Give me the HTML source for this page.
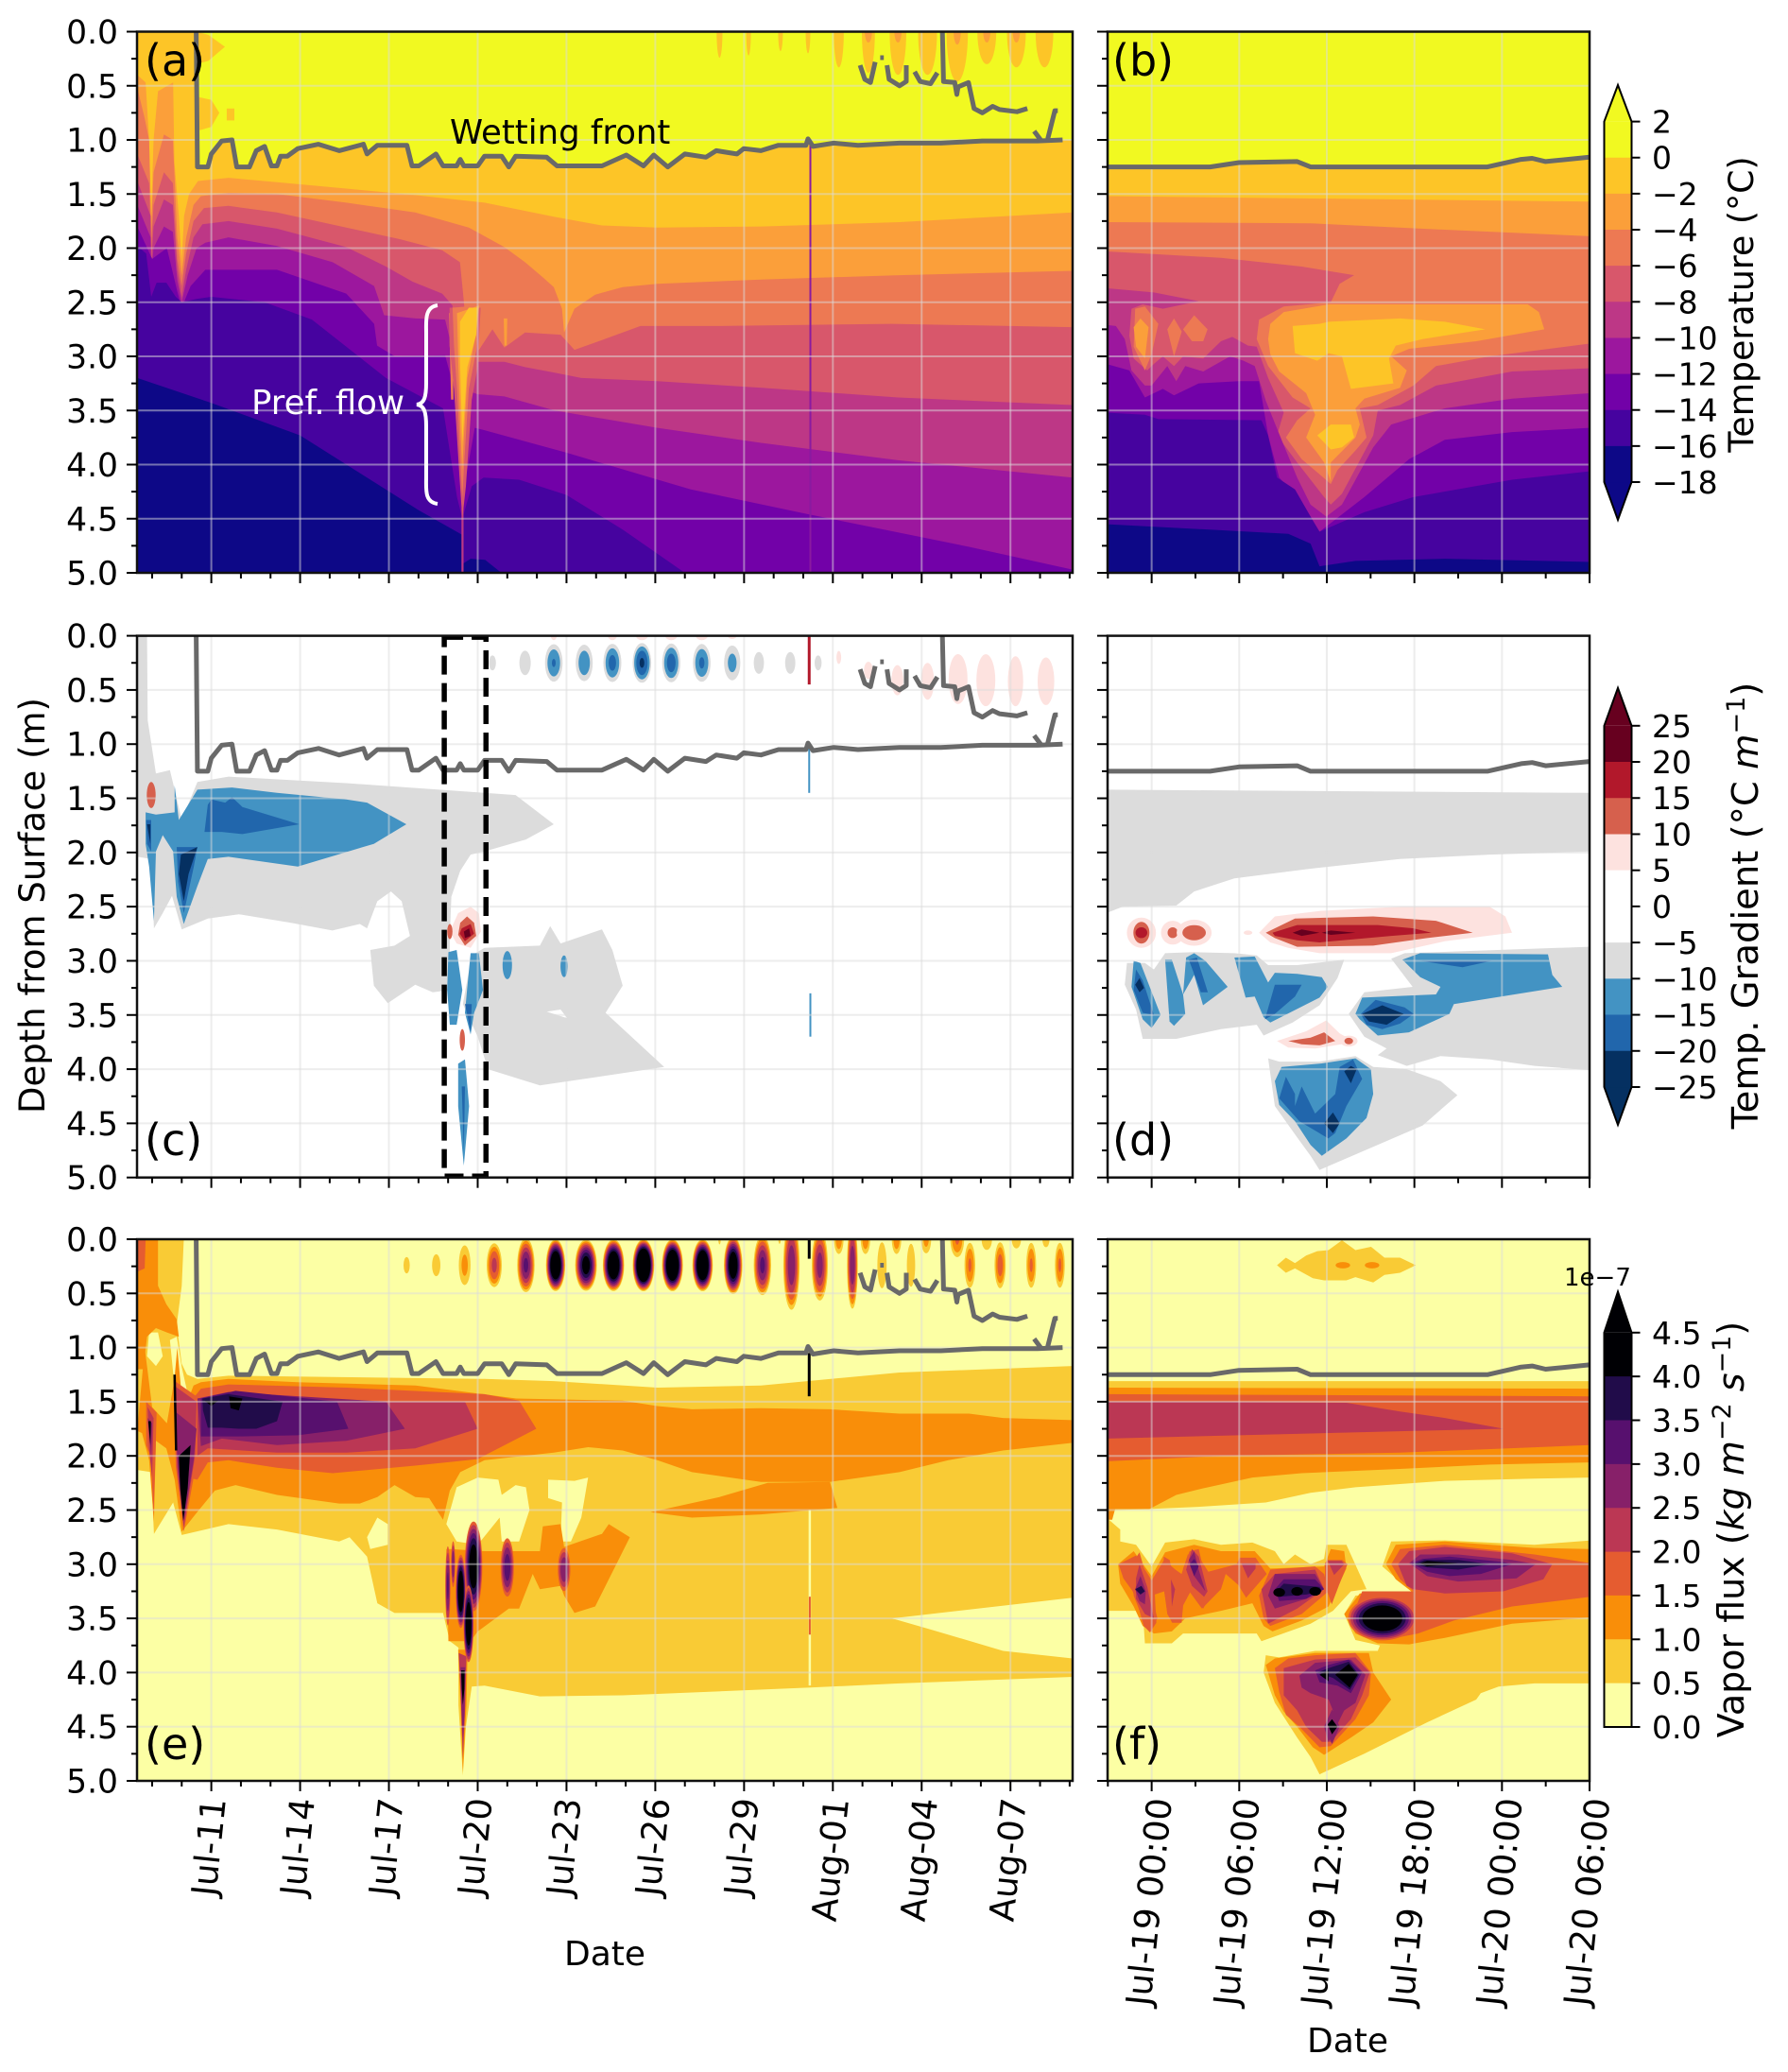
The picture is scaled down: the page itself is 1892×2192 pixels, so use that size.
<!DOCTYPE html>
<html lang="en">
<head>
<meta charset="utf-8">
<title>Soil temperature, gradient and vapor flux</title>
<style>
html,body{margin:0;padding:0;background:#fff}
svg{display:block;font-family:"DejaVu Sans","Liberation Sans",sans-serif}
</style>
</head>
<body>
<svg id="fig" xmlns="http://www.w3.org/2000/svg" width="1892" height="2192" viewBox="0 0 1892 2192">
<defs id="clips"></defs>
<rect x="0" y="0" width="1892" height="2192" fill="#fff"/>
<g id="panels"></g>
<g id="axes"></g>
<g id="bars"></g>
<g>
<text x="153" y="80" font-size="46">(a)</text>
<text x="1177" y="80" font-size="46">(b)</text>
<text x="153" y="1222" font-size="46">(c)</text>
<text x="1177" y="1222" font-size="46">(d)</text>
<text x="153" y="1861" font-size="46">(e)</text>
<text x="1177" y="1861" font-size="46">(f)</text>
<text x="476" y="152" font-size="35.5">Wetting front</text>
<text x="266" y="438" font-size="35.5" fill="#fff">Pref. flow</text>
<path d="M463 323 C449 325 451 340 451 352 L451 405 C451 420 449 427 441 428 C449 429 451 436 451 451 L451 504 C451 518 449 531 463 533" fill="none" stroke="#fff" stroke-width="4"/>
<text transform="translate(47,958) rotate(-90)" text-anchor="middle" font-size="37">Depth from Surface (m)</text>
<text x="640" y="2079" text-anchor="middle" font-size="36">Date</text>
<text x="1426" y="2171" text-anchor="middle" font-size="36">Date</text>
<text transform="translate(1855,322) rotate(-90)" text-anchor="middle" font-size="36.3">Temperature (°C)</text>
<text transform="translate(1860,958) rotate(-90)" text-anchor="middle" font-size="38.5">Temp. Gradient (°C <tspan font-style="italic">m</tspan><tspan font-size="27" dy="-14">−1</tspan><tspan dy="14">)</tspan></text>
<text transform="translate(1845,1618) rotate(-90)" text-anchor="middle" font-size="38">Vapor flux (<tspan font-style="italic">kg m</tspan><tspan font-size="27" dy="-14">−2</tspan><tspan dy="14" font-style="italic"> s</tspan><tspan font-size="27" dy="-14">−1</tspan><tspan dy="14">)</tspan></text>
<text x="1655" y="1360" font-size="26">1e−7</text>
</g>
</svg>
<script>
/* ---------- axis data ---------- */
const dayTicks = [11,14,17,20,23,26,29,32,35,38];
const dayTickLabels = ['Jul-11','Jul-14','Jul-17','Jul-20','Jul-23','Jul-26','Jul-29','Aug-01','Aug-04','Aug-07'];
const hourTicks = [0,6,12,18,24,30];
const hourTickLabels = ['Jul-19 00:00','Jul-19 06:00','Jul-19 12:00','Jul-19 18:00','Jul-20 00:00','Jul-20 06:00'];
const depthTicks = [0,0.5,1,1.5,2,2.5,3,3.5,4,4.5,5];
const depthTickLabels = ['0.0','0.5','1.0','1.5','2.0','2.5','3.0','3.5','4.0','4.5','5.0'];
const tempTicks = [2,0,-2,-4,-6,-8,-10,-12,-14,-16,-18];
const gradTicks = [25,20,15,10,5,0,-5,-10,-15,-20,-25];
const fluxTicks = [4.5,4,3.5,3,2.5,2,1.5,1,0.5,0];

/* ---------- colour levels ---------- */
const tempColors = ['#f1f921','#fdc527','#fb9f3a','#ed7953','#d8576b','#bd3786','#9c179e','#7201a8','#46039f','#0d0887'];
const gradColors = ['#67001f','#b2182b','#d6604d','#fde2df','#ffffff','#ffffff','#dcdcdc','#4393c3','#2166ac','#053061'];
const fluxColors = ['#000004','#210c4a','#57106e','#872069','#bb3754','#e55c30','#f98e09','#f9cb35','#fcffa4'];
const GOLD=1,ORNG=2,CORAL=3,ROSE=4,MAG=5,PURP=6,VIOL=7,INDIGO=8,NAVY=9;
const F0=8,F05=7,F1=6,F15=5,F2=4,F25=3,F3=2,F35=1,F4=0;
const G_GRAY=6,G_B1=7,G_B2=8,G_B3=9,G_P=3,G_R1=2,G_R2=1,G_R3=0;

/* ---------- wetting front (day of July, depth m) ---------- */
const frontDays = [10.49,10.53,10.88,11,11.35,11.7,11.86,12.29,12.52,12.8,13.03,13.22,13.34,13.57,13.92,14.62,15.32,16.14,16.26,16.61,17.61,17.78,18.01,18.59,18.83,19.29,19.41,19.53,20,20.23,20.81,21.05,21.28,22.33,22.68,24.2,25.02,25.6,25.95,26.42,27,27.71,28.06,28.76,28.99,29.57,30.16,31.09,31.16,31.33,32.03,32.85,34.25,35.65,37.05,38.92,39.76];
const frontDepths = [0,1.25,1.25,1.13,1.01,1.0,1.25,1.25,1.1,1.06,1.24,1.24,1.15,1.15,1.08,1.04,1.1,1.04,1.13,1.05,1.05,1.24,1.24,1.13,1.24,1.24,1.18,1.24,1.24,1.15,1.15,1.25,1.15,1.16,1.24,1.24,1.14,1.24,1.14,1.25,1.13,1.16,1.1,1.13,1.08,1.1,1.05,1.05,.99,1.06,1.03,1.05,1.03,1.03,1.01,1.01,1.0];
const perchedDays = [32.92,33.08,33.27,33.43,null,33.6,33.72,null,33.83,33.9,34.25,34.48,34.48,null,34.76,34.95,35.3,35.53,null,35.7,35.74,36.12,36.19,36.23,36.58,36.77,37.05,37.4,37.63,38.22,38.57,null,38.8,39.02,null,39.26,39.5,39.6];
const perchedDepths = [.31,.44,.47,.28,null,.24,.24,null,.31,.44,.5,.46,.31,null,.37,.46,.48,.38,null,0,.46,.47,.58,.51,.47,.71,.75,.69,.72,.74,.71,null,.92,1.0,null,.99,.73,.73];
const zoomFrontHours = [-3,4,5.98,9.97,10.89,23,25.31,26.07,26.99,30];
const zoomFrontDepths = [1.25,1.25,1.21,1.2,1.25,1.25,1.18,1.17,1.2,1.16];

/* ---------- panel (a): temperature isotherms, [day, depth, ...] ---------- */
const aIsoM2 = [8.5,.4,8.78,.47,8.9,1.0,8.97,1.7,9.05,1.0,9.2,.55,9.71,.47,9.75,1.2,9.9,1.7,10,2.13,10.08,1.7,10.25,1.5,10.55,1.38,11.58,1.35,13.22,1.39,15.56,1.45,17.89,1.51,20.23,1.58,22.57,1.71,24.2,1.79,26.07,1.81,29.57,1.8,34.25,1.76,40.1,1.67];
const aIsoM4 = [8.5,.52,8.75,.8,8.9,1.0,8.97,1.85,9.05,1.3,9.4,.95,9.7,1.0,9.85,1.9,10,2.25,10.15,1.9,10.4,1.6,10.65,1.52,11.58,1.49,13.22,1.5,15.56,1.58,17.89,1.67,19.7,1.81,20.9,1.99,21.6,2.13,22.2,2.27,22.57,2.36,22.85,2.56,22.92,2.78,23.27,2.56,23.97,2.43,24.9,2.36,26.07,2.33,29.57,2.29,34.25,2.25,40.1,2.21];
const aIsoM6 = [8.5,1.13,8.9,1.4,8.97,2.0,9.05,1.6,9.4,1.3,9.7,1.4,9.85,2.1,10,2.35,10.15,2.05,10.4,1.75,10.75,1.63,11.58,1.61,13.22,1.67,15.56,1.81,17.4,1.92,18.8,2.02,19.4,2.13,19.5,2.4,19.6,2.7,19.9,3.0,20.5,2.75,20.9,2.92,21.6,2.78,22.8,2.8,23.27,2.94,24.2,2.85,25.5,2.72,28,2.72,34,2.7,40.1,2.73];
const aIsoM8 = [8.5,1.38,8.95,1.7,8.97,2.15,9.05,1.8,9.4,1.55,9.7,1.6,9.85,2.2,10,2.45,10.15,2.2,10.4,1.9,10.7,1.78,11.58,1.75,13.22,1.82,15.56,1.99,16.9,2.17,17.8,2.31,18.8,2.42,19.15,2.53,19.1,2.7,19.7,3.0,20,3.05,20.9,3.05,21.6,3.1,22.6,3.15,23.5,3.2,26.07,3.23,29.6,3.29,34.2,3.38,40.1,3.45];
const aIsoM10 = [8.5,1.6,8.95,1.9,8.97,2.25,9.05,2.0,9.4,1.8,9.7,1.85,9.85,2.3,10,2.5,10.2,2.25,10.5,2.0,10.8,1.95,11.58,1.9,13.22,1.98,15.1,2.13,16.5,2.35,16.84,2.62,17.9,2.65,18.9,2.66,19.2,3.0,19.5,3.3,20,3.35,20.9,3.37,22.6,3.5,26.07,3.66,29.6,3.8,34.2,3.96,40.1,4.12];
const aIsoM12 = [8.5,1.8,9,2.1,9.5,2.0,9.85,2.4,10,2.55,10.3,2.35,10.8,2.2,13.22,2.2,15.56,2.42,16.5,2.7,16.6,2.9,17.2,3.0,18.9,2.99,19.3,3.4,19.55,4.2,19.9,3.66,20.2,3.68,23,3.89,27.2,4.23,31.2,4.46,36.6,4.76,40.1,4.97];
const aIsoM14 = [8.5,1.98,8.8,2.05,8.97,2.45,9.15,2.32,9.48,2.32,9.8,2.45,10,2.5,10.5,2.47,11,2.45,12.8,2.5,14.4,2.66,15.56,2.91,16.9,3.2,18.83,3.48,19.3,4.3,19.48,4.5,19.8,4.2,20.2,4.12,21.4,4.14,23,4.28,24.9,4.6,27,5.0];
const aIsoM16 = [8.5,3.2,11,3.43,14,3.73,18,4.42,19.48,4.65,19.48,4.92,19.76,4.87,20.25,4.88,20.8,5];
const aTongueRose = [19.05,2.55,20.1,2.55,20,3.1,19.8,3.4,19.6,4.2,19.48,4.5,19.38,4.1,19.2,3.3,19.05,2.9];
const aTongueCoral = [19.15,2.55,20.05,2.53,19.95,2.95,19.7,3.3,19.55,3.95,19.48,4.3,19.4,3.9,19.3,3.3,19.2,2.9];
const aTongueOrange = [19.3,2.6,20.05,2.53,19.9,2.85,19.65,3.2,19.53,3.75,19.48,4.05,19.42,3.7,19.35,3.1];
const aTongueGold = [19.4,2.68,19.7,2.55,20,2.55,19.95,2.8,19.65,3.1,19.55,3.5,19.48,3.8,19.43,3.3,19.4,3.0];
const aFingerNarrow = [19.03,2.6,19.14,2.6,19.18,3.4,19.1,3.4];
const aFingerSmall = [20.88,2.65,21,2.65,20.98,2.9,20.9,2.9];
const aTail = [19.45,4.4,19.52,4.4,19.52,5,19.45,5];
const aTopBump = [10.5,0,10.9,.03,11.46,.14,10.9,.27,10.5,.3];
const aMidBump = [10.5,.6,11,.63,11.27,.75,11,.88,10.5,.92];
const aMidDot = [11.52,.71,11.78,.71,11.78,.82,11.52,.82];
const aLobeDays = [28.17,29.15,30.23,31.16,32.2,33.2,34.2,35.2,36.2,37.2,38.2,39.15];
const aLobeDepths = [.24,.22,.18,.2,.33,.38,.4,.4,.46,.3,.33,.33];
const aLobeHalfDays = [.1,.08,.08,.08,.17,.22,.28,.32,.36,.32,.32,.3];
const aInnerLobeDays = [33.2,34.2,36.2,37.2,38.2];
const aInnerLobeDepths = [.1,.1,.12,.1,.1];

/* ---------- panel (b): zoomed temperature, [hour, depth, ...] ---------- */
const bIso0 = [-3.1,1.25,4,1.25,5.98,1.21,9.97,1.2,10.89,1.25,23,1.25,25.31,1.18,26.07,1.17,26.99,1.2,30.1,1.16];
const bIsoM2 = [-3.1,1.52,30.1,1.57];
const bIsoM4 = [-3.1,1.76,10.89,1.77,20.09,1.83,30.1,1.89];
const bIsoM6 = [-3.1,2.03,4.75,2.09,10.28,2.17,13.87,2.25,12.88,2.33,12.27,2.5,9.05,2.54,7.36,2.66,7.2,2.84,7.98,3.09,9.66,3.38,10.89,3.48,9.97,3.59,9.2,3.75,10.28,3.95,11.5,4.09,12.27,4.18,12.73,4.05,13.96,3.87,14.72,3.75,14.26,3.48,15.49,3.45,17.94,3.27,19.48,3.09,23.16,3,30.1,2.88];
const bIsoM8 = [-3.1,2.37,.15,2.41,3.22,2.49,.77,2.56,-.61,2.52,-1.38,2.56,-1.53,2.81,-1.23,3.02,-.31,3.13,.15,3.07,.77,3,1.53,3.09,2.15,3,3.53,3.02,4.75,2.86,5.52,2.82,6.6,2.9,7.2,2.91,7.98,3.2,9.05,3.52,8.59,3.73,9.97,3.98,11.81,4.3,12.27,4.37,13.04,4.27,15.18,3.73,15.49,3.5,17.02,3.45,19.48,3.27,24.69,3.14,30.1,3.11];
const bIsoM10 = [-3.1,2.71,-2.45,2.72,-1.84,2.84,-1.38,3.13,-.46,3.27,0,3.27,1.07,3.09,1.69,3.23,2.3,3.09,3.53,3.14,5.37,3,6.29,3.04,7.06,3.09,7.82,3.41,8.9,3.77,9.97,4.12,10.89,4.37,11.96,4.48,13.04,4.37,15.18,3.84,16.41,3.63,20.09,3.48,24.69,3.39,30.1,3.34];
const bIsoM12 = [-3.1,3.07,-1.53,3.13,-.46,3.38,.77,3.3,1.53,3.36,3.22,3.25,5.98,3.23,7.36,3.23,7.98,3.73,8.74,4.12,9.97,4.3,11.5,4.62,14.57,4.3,17.64,3.95,20.09,3.77,24.69,3.7,30.1,3.66];
const bIsoM14 = [-3.1,3.52,-.46,3.54,.46,3.58,7.52,3.59,7.98,3.73,8.59,4.12,9.82,4.23,10.89,4.48,11.5,4.62,14.57,4.44,17.94,4.3,24.69,4.14,30.1,4.06];
const bIsoM16 = [-3.1,4.55,9.36,4.64,10.89,4.73,11.5,4.94,13.96,4.89,20.09,4.87,30.1,4.9];
const bWarmOrange = [8.13,2.7,9.05,2.59,12.12,2.52,17.02,2.52,25.77,2.52,26.53,2.59,26.9,2.75,22.24,2.86,17.64,2.93,16.41,3,17.48,3.13,17.02,3.29,14.57,3.39,13.96,3.48,14.26,3.63,13.96,3.75,12.27,3.98,12.27,4.16,11.81,3.98,10.58,3.75,11.2,3.54,10.58,3.34,8.74,3.14,8.13,2.98,7.98,2.84];
const bWarmGoldUpper = [9.66,2.72,11.5,2.7,12.12,2.68,17.02,2.65,20.09,2.68,22.85,2.75,18.56,2.84,16.72,2.9,16.26,3.02,16.56,3.25,13.65,3.3,13.04,3,12.12,2.97,11.35,3.04,9.82,2.97];
const bWarmGoldLower = [11.35,3.73,12.27,3.63,13.65,3.63,13.87,3.75,13.04,3.84,12.27,3.86];
const bLeftBlobA = [-1.13,2.56,-.46,2.54,.46,2.7,0,2.98,-.46,3.13,-1.23,2.91];
const bLeftBlobB = [1.07,2.75,1.53,2.65,2.06,2.77,1.53,3];
const bLeftBlobC = [2.15,2.75,2.91,2.62,3.83,2.75,3.53,2.86,2.76,2.86];
const bLeftBlobCore = [-1.23,2.73,-.77,2.65,-.21,2.73,-.46,3.02,-1.07,2.91];

/* ---------- panel (c): temperature gradient contours ---------- */
const cGrayUpper = [8.5,0,8.83,0,8.85,.78,9.13,1.27,9.6,1.24,9.76,1.42,10,1.7,10.53,1.35,11.58,1.3,15.56,1.36,20.23,1.45,21.28,1.47,22.57,1.74,21.63,1.88,20.23,1.99,19.76,2.02,19.41,2.17,19.11,2.41,19.06,2.77,19.06,3.27,18.48,3.29,17.89,3.22,16.96,3.39,16.49,3.23,16.37,2.9,17.19,2.86,17.71,2.77,17.43,2.45,17.07,2.36,16.61,2.45,16.26,2.7,16.02,2.66,15.09,2.72,13.69,2.65,11.93,2.57,10.88,2.61,10,2.71,9.67,2.4,9.36,2.56,9.06,2.7,8.97,2.06,8.5,2.04];
const cGrayLower = [20.23,2.88,22.1,2.86,22.45,2.68,22.8,2.84,24.2,2.71,24.55,2.9,24.9,3.23,24.32,3.48,26.3,3.98,22.1,4.15,20.35,4,20,3.7,19.5,3.4,19.8,2.95];
const cGrayHole = [22.33,3.47,22.8,3.45,23.03,3.53];
const cBlueMain = [8.78,1.63,9.13,1.65,9.76,1.63,9.76,1.38,9.9,1.7,10.53,1.42,11.7,1.4,13.22,1.45,15.56,1.51,16.26,1.54,17.59,1.74,16.49,1.92,13.92,2.13,11.58,2.04,10.88,2.06,10.53,2.31,10.07,2.66,9.83,2.41,9.71,1.99,9.36,1.84,9.13,1.99,9.06,2.63,8.9,2.13,8.78,1.92];
const cMidCore = [10.77,1.81,10.88,1.56,11,1.51,11.47,1.54,11.7,1.49,12.05,1.58,13.97,1.74,12.05,1.83,11.35,1.81];
const cMidLeft = [8.8,1.7,8.97,1.7,8.97,1.99,8.83,1.92];
const cMidSpike = [9.83,1.95,10.53,1.95,10.41,2.13,10.07,2.56,9.88,2.27];
const cDarkLeft = [8.83,1.74,8.94,1.74,8.94,1.92];
const cDarkSpike = [9.97,2.02,10.53,1.95,10.23,2.2,10.07,2.45,9.9,2.2];
const cRedPink = [19.34,2.56,19.76,2.5,20.04,2.56,20.11,2.73,19.76,2.88,19.29,2.84,19.06,2.73];
const cRedCoral = [19.41,2.65,19.64,2.59,19.88,2.65,19.95,2.77,19.57,2.86,19.34,2.76];
const cRedMid = [19.46,2.7,19.76,2.66,19.88,2.75,19.57,2.82,19.39,2.75];
const cRedDark = [19.53,2.73,19.71,2.7,19.76,2.77,19.57,2.79];
const cColumnLeft = [19.01,2.92,19.29,2.9,19.48,3.27,19.29,3.59,19.06,3.59,18.97,3.27];
const cColumnRight = [19.76,2.93,20.04,2.93,20.18,3.27,19.88,3.48,19.76,3.68,19.57,3.48,19.64,3.27];
const cColumnMid = [19.57,3.4,19.8,3.4,19.76,3.65];
const cSpikeLower = [19.34,3.95,19.57,3.91,19.71,4.34,19.53,4.89,19.34,4.34];
const cSpikeLowerMid = [19.46,4.16,19.57,4.16,19.53,4.77];
const cSpotDays = [8.97,19.06,19.48,21,22.92];
const cSpotDepths = [1.47,2.73,3.73,3.04,3.05];
const cSpotHalfDays = [.15,.09,.09,.16,.12];
const cSpotHalfDepths = [.12,.07,.1,.13,.1];
const cSpotColorsIdx = [G_R1,G_R1,G_R1,G_B1,G_B1];
const cDiurnalDays = [20.5,21.6,22.57,23.6,24.55,25.55,26.54,27.57,28.6,29.5,30.56,31.5];
const cDiurnalPeak = [5.6,7,15.5,14,17,21,18,16,12,6.5,6.5,5.6];
const cPinkDays = [22.57,24.55,25.55,26.54,27.57,28.6,32.2,33.2,34.18,35.2,36.23,37.17,38.17,39.2];
const cPinkDepths = [0,0,0,0,0,0,.2,.32,.41,.42,.4,.41,.42,.42];
const cPinkHalfDepths = [.04,.04,.04,.04,.04,.03,.06,.08,.14,.17,.23,.24,.23,.22];
const cPinkHalfDays = [.1,.15,.2,.2,.2,.15,.08,.15,.2,.22,.32,.32,.26,.28];

/* ---------- panel (d): zoomed gradient, [hour, depth, ...] ---------- */
const dGrayTop = [-3.1,1.42,30.1,1.45,30.1,1.99,23.16,2.02,17,2.06,10.89,2.15,5.67,2.24,2.91,2.36,1.69,2.49,-2,2.5,-3.1,2.56];
const dGrayLeft = [-3.1,3.18,-1.84,3.22,-1.69,3.02,-.46,3.02,.15,3.08,.92,2.93,2.91,2.92,5.67,2.93,7.2,2.95,7.98,3.04,9.97,3.04,13.19,2.99,12.73,3.16,11.5,3.41,9.66,3.57,7.67,3.69,7.2,3.59,4.75,3.63,1.69,3.72,-.61,3.72,-1.07,3.45,-1.84,3.22];
const dGrayRight = [16.41,2.98,17.33,2.93,30.1,2.87,30.1,4.01,26.23,3.97,23.16,3.91,19.79,3.88,17.48,3.97,15.49,3.87,16.1,3.81,14.57,3.7,13.5,3.49,14.57,3.29,17.88,3.24];
const dGrayBottom = [7.98,3.9,8.74,3.93,11.5,3.93,13.96,3.88,15.18,3.98,17.48,4,19.79,4.11,20.95,4.24,18.56,4.52,11.5,4.93,10.89,4.8,9.97,4.63,8.44,4.34];
const dBlueA = [-1.23,3,-.77,3.02,.61,3.5,0,3.62,-.61,3.54,-1.38,3.24];
const dBlueB = [.92,2.99,1.38,2.99,2.15,3.31,2.3,3.49,1.53,3.6,1.23,3.56];
const dBlueC = [2.36,2.97,2.91,2.93,3.68,3,5.21,3.24,3.52,3.41,2.91,3.13,2.15,3.31];
const dBlueD = [5.67,2.97,7.06,2.96,7.98,3.2,8.44,3.11,9.97,3.12,11.66,3.15,12.06,3.24,11.5,3.34,8.13,3.57,7.67,3.52,7.06,3.33,6.44,3.34];
const dBlueE = [17.18,2.99,18.4,2.93,27.15,2.94,27.45,3.13,28.13,3.24,20.7,3.4,20.4,3.49,17.63,3.66,15.49,3.69,14.26,3.54,13.96,3.49,14.42,3.34,19.48,3.31,19.79,3.24,18.4,3.15];
const dBlueF = [8.44,4.11,8.9,3.98,11.5,3.95,13.96,3.9,15.02,4,15.18,4.23,14.72,4.45,13.34,4.64,11.66,4.8,10.89,4.7,9.82,4.48,8.74,4.33];
const dMidA = [-1.07,3.08,-.61,3.18,.15,3.5,-.61,3.48,-1.23,3.27];
const dMidC = [2.55,2.99,3.1,2.97,3.85,3.29,3.37,3.29];
const dMidD = [7.76,3.54,8.44,3.22,10.28,3.22,9.82,3.33,8.44,3.49];
const dMidE = [18.4,3,23.3,3,21.3,3.06];
const dMidCore = [14.33,3.49,15.34,3.36,17.33,3.43,17.95,3.49,17.02,3.58,15.8,3.63,14.72,3.59];
const dMidF = [8.74,4.27,9.2,4.07,9.82,4.23,9.82,4.34,10.28,4.16,11.2,4.41,12.58,4.23,12.88,3.98,13.8,3.91,14.42,4.09,13.34,4.34,12.58,4.59,12.1,4.64,10.12,4.48];
const dDarkA = [-1.13,3.22,-.83,3.16,-.52,3.25,-.83,3.29];
const dDarkCore = [14.42,3.49,15.8,3.41,17.27,3.49,16.1,3.59,14.88,3.56];
const dDarkF1 = [13.19,4.02,13.65,3.97,14.05,4,13.65,4.13];
const dDarkF2 = [11.81,4.5,12.42,4.4,12.88,4.5,12.42,4.59];
const dPinkMain = [7.36,2.74,8.44,2.59,11.5,2.54,17,2.5,23.16,2.5,24.23,2.59,24.69,2.74,20.09,2.82,16.41,2.93,11.5,2.93,9.36,2.88,8.13,2.83];
const dCoralMain = [7.82,2.74,9.82,2.61,15.18,2.59,19.48,2.63,22,2.74,18.87,2.79,15.18,2.86,9.97,2.87,8.44,2.79];
const dRedMain = [8.28,2.74,9.97,2.67,15.49,2.67,17.94,2.7,19.17,2.74,16.41,2.77,11.5,2.83,9.97,2.81,8.44,2.77];
const dDarkRedA = [9.66,2.74,10.28,2.71,11.5,2.74,10.28,2.77];
const dDarkRedB = [11.66,2.74,12.27,2.72,13.96,2.74,12.27,2.76];
const dPinkLower = [8.59,3.74,10.58,3.65,11.96,3.55,12.88,3.67,13.96,3.75,11.2,3.81,9.36,3.8];
const dCoralLower = [9.36,3.74,10.89,3.71,11.81,3.66,12.58,3.74,11.5,3.78,10.28,3.77];
const dRedSpotHours = [-.7,1.44,2.91,6.6,13.5];
const dRedSpotDepths = [2.74,2.74,2.74,2.74,3.74];
const dPinkHalfHours = [1,.8,1.2,.3,.6];
const dPinkHalfDepths = [.14,.11,.12,.02,.05];
const dCoralHalfHours = [.55,.35,.8,0,.3];
const dCoralHalfDepths = [.1,.05,.07,0,.03];

/* ---------- panel (e): vapor flux contours ---------- */
const eGoldMain = [8.5,0,10.07,0,10,.43,9.83,.79,10,1.15,10.18,1.25,10.53,1.29,11.58,1.26,20.23,1.29,22.57,1.31,26.07,1.37,29.57,1.35,34.25,1.23,40.1,1.17,40.1,4.04,34.25,4.1,31.16,4.14,24.9,4.21,22.1,4.22,20.23,4.12,19.8,4.13,19.6,4.5,19.5,4.95,19.35,4.3,19.35,3.77,19.06,3.71,18.83,3.45,17.19,3.45,16.61,3.36,16.26,2.93,15.67,2.75,15.32,2.79,13.22,2.68,11.58,2.63,10,2.73,9.71,2.43,9.06,2.72,8.97,2.15,8.5,2.13];
const eHoleA = [18.94,2.63,19.29,2.29,20,2.2,20.7,2.22,20.81,2.36,21.28,2.27,21.63,2.29,21.75,2.5,21.4,2.79,20.81,2.79,20.74,2.57,20,2.82,19.29,2.79];
const eHoleB = [22.38,2.22,23.27,2.23,23.73,2.2,23.5,2.57,23.15,2.79,22.8,2.79,22.85,2.43,22.38,2.39];
const eHoleC = [16.26,2.75,16.61,2.57,16.96,2.63,16.96,2.82,16.37,2.86];
const eHoleD = [34,3.5,40.1,3.31,40.1,3.87,37.75,3.8,35.4,3.61];
const eHoleE = [8.9,.86,9.2,.86,9.36,1.08,9.13,1.17,8.83,1.08];
const eHoleF = [9.6,.93,9.83,.9,10,1.18,10.18,1.4,9.9,1.54,9.71,1.23];
const eOrangeMain = [8.75,1.0,9,1.55,9.5,1.7,9.75,1.3,9.85,1.0,10.05,1.6,10.4,1.35,10.65,1.32,11.58,1.29,13.9,1.32,17.9,1.35,21.3,1.47,24.9,1.49,26.07,1.54,27.24,1.57,29.57,1.56,31.9,1.57,34.25,1.61,36.6,1.61,37.75,1.65,40.1,1.67,40.1,1.88,37.75,1.95,35.9,2.04,34.25,2.15,31.9,2.24,29.57,2.24,27.24,2.15,26.07,2.04,24.9,1.95,23.73,1.92,22.57,1.97,20.23,2.04,19.41,2.15,19.06,2.32,18.83,2.59,18.36,2.39,17.89,2.38,17.19,2.27,16.61,2.38,16.02,2.44,15.32,2.44,13.22,2.36,11.82,2.27,11.12,2.32,10.46,2.54,10,2.7,9.76,2.22,9.48,1.93,9.13,1.86,9.06,2.61,8.9,2.04,8.66,1.79,8.5,1.77];
const eOrangeTopLeft = [8.5,0,9.2,0,9.2,.43,9.48,.6,9.83,.74,9.9,.9,9.5,.86,9.13,.82,8.83,.9,8.7,1.2,8.5,1.2];
const eCoralTopLeft = [8.5,0,8.78,0,8.75,.27,8.5,.3];
const eOrangeWedge = [25.84,2.52,28.17,2.38,29.8,2.25,31.9,2.24,32.15,2.48,29.57,2.54,27.24,2.57];
const eOrangeMid = [19.06,2.86,20.23,2.88,22.1,2.88,22.2,2.65,22.8,2.63,22.92,2.84,24.2,2.72,24.43,2.63,25.14,2.75,24.43,3.14,23.97,3.39,23.27,3.45,22.92,3.29,22.8,3.2,22.1,3.23,21.86,3.09,21.4,3.41,21.05,3.41,20,3.62,19.76,3.71,19.29,3.71,19.01,3.71,18.94,2.86];
const eCoralBand = [10.65,1.38,11.58,1.34,15.56,1.37,20.23,1.43,21.4,1.49,21.98,1.75,20,2.03,17.89,2.09,15.1,2.16,13.22,2.11,11.58,2.04,10.88,2.06,10.53,2.22,10.2,2.2,10.3,1.5];
const eRoseBand = [10.53,1.49,11.58,1.43,15.56,1.5,19.57,1.5,20,1.75,17.89,1.93,15.56,1.97,13.22,1.97,10.88,1.93,10.53,2];
const ePlumBand = [10.53,1.47,11.58,1.41,16.9,1.5,17.54,1.75,15.56,1.86,13.22,1.9,11.35,1.84,10.65,1.91];
const ePurpleBand = [10.65,1.47,11.82,1.4,15.25,1.5,15.63,1.75,13.92,1.81,11.93,1.82,10.65,1.82];
const eIndigoBand = [10.7,1.47,11.58,1.43,13.41,1.5,13.22,1.68,12.52,1.75,11.93,1.75,11.35,1.74,10.88,1.74,10.72,1.58];
const eBlackA = [11.6,1.45,12.05,1.47,11.93,1.58,11.65,1.56];
const eBlackB = [10.77,1.49,11.23,1.49,11,1.54];
const eSpike1Coral = [8.8,1.5,9.15,1.6,9.12,1.95,9.05,2.55,8.95,2,8.8,1.9];
const eSpike1Rose = [8.85,1.55,9.05,1.65,9,2.2,8.9,1.95];
const eSpike1Plum = [8.85,1.65,9,1.7,8.97,2];
const eSpike1Black = [8.87,1.68,8.96,1.68,8.94,1.9];
const eSpike2Coral = [9.72,1.3,10.5,1.45,10.5,2.05,10.07,2.7,9.8,2.1];
const eSpike2Rose = [9.74,1.35,10.5,1.5,10.45,2,10.07,2.66,9.84,2.1];
const eSpike2Plum = [9.74,1.4,9.82,1.6,10.5,1.75,10.4,2.05,10.07,2.6,9.88,2.15];
const eSpike2Black = [9.9,2,10.3,1.9,10.2,2.3,10.05,2.6,9.95,2.3];
const eSpike2Stripe = [9.72,1.25,9.8,1.25,9.85,1.95,9.77,1.95];
const eLowerOrange = [19.34,3.79,19.66,3.79,19.62,4.3,19.5,4.92,19.42,4.3];
const eLowerRose = [19.36,3.82,19.62,3.85,19.58,4.3,19.5,4.8,19.44,4.3];
const eLowerPlum = [19.42,3.95,19.58,3.95,19.55,4.4,19.5,4.6,19.46,4.4];
const eLowerBlack = [19.44,3.98,19.56,3.98,19.55,4.15,19.5,4.3,19.46,4.15];
const eColumnDays = [19.86,19.43,19.69,18.99,19.17,21,22.92];
const eColumnDepths = [3.02,3.25,3.55,3.2,3,3.03,3.05];
const eColumnHalfDays = [.36,.2,.2,.12,.1,.3,.3];
const eColumnHalfDepths = [.5,.4,.42,.5,.3,.36,.28];
const eColumnPeaks = [4.8,5.2,5.2,3.2,3,3.4,3];
const eDiurnalDays = [17.6,18.6,19.56,20.56,21.63,22.63,23.66,24.59,25.6,26.58,27.6,28.63,29.62,30.6,31.56,32.66,33.66,34.64,36.63,37.65,38.7,39.67];
const eDiurnalPeaks = [.7,.7,1.2,2.2,3.2,5.5,4.5,5.5,6.5,6,5.8,5,3.2,3,2.8,3,1,1,1.6,1.8,1.6,1.6];
const eDiurnalHalfDepths = [.14,.19,.24,.23,.27,.25,.25,.25,.25,.25,.25,.28,.3,.45,.36,.44,.3,.28,.25,.25,.25,.25];
const eDiurnalHalfDays = [.2,.26,.26,.29,.32,.34,.39,.38,.38,.37,.36,.33,.32,.3,.3,.2,.22,.2,.22,.22,.2,.2];
const eCrownDays = [28.17,30.2,32.2,33.1,34.15,35.15,36.2,37.2,38.2,39.2];
const eCrownPeaks = [.7,.7,1.4,1.4,1.4,1.2,1.6,1,1,.8];
const eCrownHalfDays = [.08,.08,.2,.2,.2,.22,.28,.25,.22,.2];
const eCrownHalfDepths = [.09,.08,.17,.17,.17,.17,.2,.14,.12,.12];

/* ---------- panel (f): zoomed vapor flux, [hour, depth, ...] ---------- */
const fGoldTop = [8.59,.24,9.2,.17,9.82,.22,10.58,.15,11.35,.11,12.12,.1,13.04,.01,13.96,.1,15.03,.07,15.95,.17,17.02,.17,18.1,.24,17.02,.31,15.95,.33,15.18,.4,13.96,.35,13.34,.38,11.81,.38,11.04,.36,9.82,.27,9.2,.31];
const fGoldUpper = [-3.1,1.31,30.1,1.31,30.1,2.2,26.23,2.21,20.09,2.23,13.96,2.29,10.89,2.34,7.82,2.43,3.22,2.47,-.15,2.49,-2.5,2.5,-3.1,2.62];
const fOrangeUpper = [-3.1,1.37,30.1,1.38,30.1,2.06,23.16,2.08,17,2.12,10.28,2.16,6.9,2.2,3.5,2.3,1.69,2.36,-.15,2.49,-2.5,2.49,-2.7,2.59,-3.1,2.59];
const fCoralUpper = [-3.1,1.43,30.1,1.45,30.1,1.9,17,1.97,4.75,2,-3.1,2.05];
const fRoseUpper = [-3.1,1.5,4.75,1.5,13.34,1.51,17.02,1.59,20.09,1.65,24.1,1.75,17.95,1.77,-3.1,1.84];
const fGoldLeft = [-3.1,2.57,-2.15,2.68,-2.15,2.79,-1.07,2.82,0,3.02,.92,2.8,2.91,2.77,4.75,2.82,6.9,2.8,8.44,2.88,9.05,3,9.82,2.91,10.89,3,11.81,2.95,11.96,2.82,13.34,2.82,14.72,3.23,13.65,3.25,12.42,3.43,10.89,3.55,7.52,3.71,7.2,3.64,2.15,3.64,1.38,3.73,-.46,3.73,-.61,3.43,-3.1,3.43];
const fGoldRight = [15.8,3.02,16.41,2.79,20.09,2.78,26.23,2.82,30.1,2.78,30.1,4.1,26.23,4.1,23.77,4.13,22.55,4.19,22.24,4.25,18.87,4.46,14.57,4.75,11.5,4.94,10.89,4.78,9.97,4.6,8.44,4.28,7.67,4,7.82,3.84,8.74,3.86,11.2,3.8,15.49,3.8,15.64,3.75,13.96,3.7,13.19,3.46,13.96,3.29,17.79,3.25];
const fOrangeLeft = [-2.3,3,-1.23,2.88,0,3.11,.92,2.89,2.91,2.82,4.75,2.88,7.06,2.88,8.13,3.04,11.81,3.02,12.27,2.86,13.19,2.88,13.34,3.04,12.12,3.39,10.28,3.52,8.28,3.62,7.67,3.57,6.9,3.36,4.75,3.43,2.3,3.5,1.38,3.62,.15,3.64,-.61,3.57,-1.23,3.39,-2.15,3.18];
const fCoralLeftBand = [-2.26,3,-1.08,2.92,-.22,3.1,0,3.15,.86,2.96,1.62,3.05,2.05,3.09,2.48,2.91,3.13,2.91,3.88,3.07,5.83,3,6.04,2.94,7.12,2.94,7.88,3.09,6.47,3.31,5.93,3.19,5.07,3.09,4.75,3.23,3.45,3.41,2.63,3.26,2.16,3.38,2.05,3.54,1.4,3.54,1.08,3.45,.86,3.25,.22,3.28,.32,3.54,-.11,3.63,-.54,3.57,-.86,3.42,-1.3,3.25,-1.94,3.13];
const fOrangeRight = [16.04,3,16.72,2.82,20.09,2.79,26.23,2.85,30.1,2.86,30.1,3.49,24.69,3.55,20.09,3.68,17.64,3.74,15.49,3.73,13.96,3.64,13.19,3.46,14.26,3.27,16.41,3.25,17.79,3.25,16.72,3.14];
const fCoralRight = [16.41,3,17.02,2.86,20.09,2.82,26.23,2.91,30.1,2.99,30.1,3.3,24.69,3.39,20.7,3.52,18.25,3.64,16.72,3.68,14.72,3.64,13.8,3.46,14.42,3.25,17.94,3.25,17.02,3.14];
const fRoseRight = [16.87,3,17.64,2.88,20.09,2.84,24.69,2.9,27.45,3,26.84,3.14,24.08,3.25,20.09,3.27,17.94,3.23,17.48,3.2];
const fPlumRight = [17.64,2.99,18.4,2.91,21,2.91,24.69,2.96,26.31,3,25,3.13,21,3.16,18.87,3.11];
const fPurpleRight = [17.79,2.99,18.56,2.95,20.4,2.93,24.08,2.98,24.69,3,22.55,3.09,20.4,3.11,18.87,3.07];
const fIndigoRight = [17.94,3,18.7,2.96,21,2.96,23.16,3,21,3.05,18.87,3.03];
const fBlackRight = [18.4,2.99,18.87,2.97,21,2.99,18.87,3.02];
const fBlobACoral = [-1.38,3,-.83,2.89,0,3.29,.4,3.5,0,3.59,-.61,3.5,-1.23,3.29];
const fBlobARose = [-1.07,3.13,-.83,3,-.3,3.21,.15,3.5,-.46,3.46,-1.07,3.32];
const fBlobAPlum = [-1.13,3.23,-.77,3.11,-.4,3.25,-.46,3.37,-.83,3.34];
const fBlobADark = [-1.13,3.23,-.7,3.2,-.46,3.25,-.77,3.28];
const fBlobBCoral = [.83,2.93,1.23,2.96,2.06,3.45,1.38,3.53,1.07,3.46,.77,3.14];
const fBlobBRose = [1.32,3.14,1.6,3.23,1.38,3.39];
const fBlobCCoral = [2.15,3.04,2.6,2.88,3.22,2.86,3.99,3.29,3.53,3.41,2.6,3.23,2.15,3.11];
const fBlobCRose = [2.36,3.05,2.76,2.86,3.22,2.93,3.83,3.25,3.59,3.3,2.76,3.2];
const fBlobCPlum = [2.55,2.96,2.91,2.88,3.22,3.05,3.68,3.25,2.91,3.11];
const fBlobCDark = [2.6,3,2.91,2.95,3.22,3.02,2.91,3.11];
const fBlobDRose = [6.15,2.99,7.12,2.99,7.12,3.04,6.6,3.13];
const fBlobECoral = [7.36,3.29,8.13,3.05,11.2,3.02,11.81,3.09,12.12,3.25,10.28,3.46,8.13,3.57,7.67,3.5];
const fBlobERose = [7.52,3.23,8.44,3.09,11.2,3.05,11.81,3.23,9.97,3.41,7.98,3.55,7.82,3.43];
const fBlobEPlum = [7.98,3.29,8.44,3.09,11.2,3.09,11.81,3.23,10.58,3.32,8.44,3.41];
const fBlobEPurple = [8.44,3.23,9.05,3.14,11.2,3.14,11.81,3.23,10.58,3.32,8.74,3.34];
const fBlobEIndigo = [8.53,3.25,9.05,3.18,11.5,3.21,11.66,3.25,10.58,3.28,8.74,3.3];
const fBlobFCoral = [11.87,2.99,12.08,2.96,13.05,2.96,13.42,3,12.84,3.19,12.34,3.37,11.87,3.19];
const fBlobFRose = [12.08,2.97,13.02,2.97,13.2,3,12.5,3.1];
const fLowOrange = [7.82,3.93,8.44,3.87,11.2,3.82,14.88,3.82,15.18,4,16.41,4.25,15.18,4.46,13.65,4.6,11.81,4.76,11.04,4.69,9.97,4.5,9.05,4.36,8.44,4.21];
const fLowCoral = [8.44,3.96,9.36,3.87,11.2,3.84,13.96,3.82,15.03,4,14.88,4.21,13.96,4.43,12.27,4.68,11.5,4.69,10.12,4.5,9.2,4.39,8.74,4.18];
const fLowRose = [9.05,4.21,9.05,3.96,11.2,3.88,13.96,3.86,14.95,4,14.42,4.21,13.65,4.43,12.27,4.64,11.66,4.64,10.58,4.5,9.97,4.35];
const fLowPlum = [10.12,4.03,11.2,3.91,13.65,3.88,14.65,4.02,13.96,4.28,13.19,4.35,12.12,4.64,11.81,4.5,12.42,4.35,12.12,4.25,10.89,4.19,10.28,4.14];
const fLowPlumCore = [11.81,4.5,12.36,4.34,12.88,4.5,12.36,4.66];
const fLowPurple = [11.2,3.98,12.12,3.93,13.5,3.88,14.42,4,13.65,4.19,12.73,4.12,11.5,4.09];
const fLowIndigo = [11.35,4,12.12,3.96,13.5,3.9,14.2,4.02,13.59,4.16,12.42,4.05];
const fLowBlackA = [12.58,4.02,13.5,3.92,14.11,4.02,13.56,4.14];
const fLowBlackB = [11.5,4.02,12.12,3.98,12.12,4.08];
const fLowBlackC = [12.05,4.48,12.36,4.43,12.73,4.5,12.36,4.57];
const fCoreHours = [15.8];
const fCoreDepths = [3.5];
const fCoreHalfHours = [2.75];
const fCoreHalfDepths = [.24];
const fCorePeaks = [5.33];
const fDotHours = [8.74,9.97,11.2];
const fDotDepths = [3.26,3.25,3.25];
const fTopDotHours = [13.1,15.1];

/* ---------- drawing helpers ---------- */
const NS = 'http://www.w3.org/2000/svg';
const PANEL_ROWS = [[33.5,606],[672.6,1245.7],[1311,1884]];
const LEFT = {x0:145,x1:1135,min:8.49,max:40.1};
const RIGHT = {x0:1172,x1:1682,min:-3.02,max:30};
function xScale(col,v){return col.x0+(v-col.min)*(col.x1-col.x0)/(col.max-col.min);}
function yScale(row,z){return row[0]+z*(row[1]-row[0])/5;}
const panelsRoot = document.getElementById('panels');
const axesRoot = document.getElementById('axes');
const barsRoot = document.getElementById('bars');
const clipsRoot = document.getElementById('clips');
let clipCounter = 0;

function makePanel(col,row,name){
  const clip = document.createElementNS(NS,'clipPath');
  clip.id = 'clip'+(++clipCounter);
  const r = document.createElementNS(NS,'rect');
  r.setAttribute('x',col.x0);r.setAttribute('y',row[0]);
  r.setAttribute('width',col.x1-col.x0);r.setAttribute('height',row[1]-row[0]);
  clip.appendChild(r);clipsRoot.appendChild(clip);
  const g = document.createElementNS(NS,'g');
  g.setAttribute('clip-path','url(#'+clip.id+')');
  
  
  panelsRoot.appendChild(g);
  return {g,col,row};
}
function addPoly(p,pts,color){
  const el = document.createElementNS(NS,'polygon');
  let s='';
  for(let i=0;i<pts.length;i+=2){s+=xScale(p.col,pts[i]).toFixed(1)+','+yScale(p.row,pts[i+1]).toFixed(1)+' ';}
  el.setAttribute('points',s);
  el.setAttribute('fill',color);
  
  
  p.g.appendChild(el);
}
function addBelow(p,line,color){
  const start=line[0];
  const end=line[line.length-2];
  addPoly(p,line.concat([end,5.1,start,5.1]),color);
}
function addOval(p,cx,cz,hx,hz,color){
  const el = document.createElementNS(NS,'ellipse');
  el.setAttribute('cx',xScale(p.col,cx).toFixed(1));
  el.setAttribute('cy',yScale(p.row,cz).toFixed(1));
  el.setAttribute('rx',(xScale(p.col,cx+hx)-xScale(p.col,cx)).toFixed(1));
  el.setAttribute('ry',(yScale(p.row,cz+hz)-yScale(p.row,cz)).toFixed(1));
  el.setAttribute('fill',color);
  
  
  p.g.appendChild(el);
}
function addSpots(p,days,depths,halfX,halfZ,peaks,levels,colors){
  for(let i=0;i<days.length;i++){
    levels.forEach((lv,k)=>{
      if(lv<peaks[i]){
        const s=Math.sqrt(1-lv/peaks[i]);
        addOval(p,days[i],depths[i],halfX[i]*s,halfZ[i]*s,colors[k]);
      }
    });
  }
}
function addBackground(p,color){
  addPoly(p,[p.col.min-1,-.1,p.col.max+1,-.1,p.col.max+1,5.1,p.col.min-1,5.1],color);
}
function addVLine(p,x,z0,z1,color,w){
  const el = document.createElementNS(NS,'line');
  el.setAttribute('x1',xScale(p.col,x));el.setAttribute('x2',xScale(p.col,x));
  el.setAttribute('y1',yScale(p.row,z0));el.setAttribute('y2',yScale(p.row,z1));
  el.setAttribute('stroke',color);el.setAttribute('stroke-width',w);
  
  
  p.g.appendChild(el);
}
function addGrid(p,xTicks){
  xTicks.forEach(t=>{
    const el = document.createElementNS(NS,'line');
    const x=xScale(p.col,t);
    el.setAttribute('x1',x);el.setAttribute('x2',x);
    el.setAttribute('y1',p.row[0]);el.setAttribute('y2',p.row[1]);
    el.setAttribute('stroke','#dcdcdc');el.setAttribute('stroke-opacity','.5');el.setAttribute('stroke-width','2');
    
    
    p.g.appendChild(el);
  });
  depthTicks.forEach(t=>{
    const el = document.createElementNS(NS,'line');
    const y=yScale(p.row,t);
    el.setAttribute('x1',p.col.x0);el.setAttribute('x2',p.col.x1);
    el.setAttribute('y1',y);el.setAttribute('y2',y);
    el.setAttribute('stroke','#dcdcdc');el.setAttribute('stroke-opacity','.5');el.setAttribute('stroke-width','2');
    
    
    p.g.appendChild(el);
  });
}
function addFront(p,xs,zs,width){
  let d='';let pen=false;
  for(let i=0;i<xs.length;i++){
    if(xs[i]===null){pen=false;continue;}
    d+=(pen?'L':'M')+xScale(p.col,xs[i]).toFixed(1)+' '+yScale(p.row,zs[i]).toFixed(1)+' ';
    pen=true;
  }
  const el = document.createElementNS(NS,'path');
  el.setAttribute('d',d);
  el.setAttribute('fill','none');
  el.setAttribute('stroke','#696969');
  el.setAttribute('stroke-width',width);
  el.setAttribute('stroke-linejoin','round');
  
  
  p.g.appendChild(el);
}
function addAxisLine(x1,y1,x2,y2,w,name){
  const el = document.createElementNS(NS,'line');
  el.setAttribute('x1',x1);el.setAttribute('y1',y1);el.setAttribute('x2',x2);el.setAttribute('y2',y2);
  el.setAttribute('stroke','#000');el.setAttribute('stroke-width',w);
  
  
  axesRoot.appendChild(el);
}
function addFrame(p,minorStep,majorTicks,yLabels){
  const {col,row}=p;
  const el = document.createElementNS(NS,'rect');
  el.setAttribute('x',col.x0);el.setAttribute('y',row[0]);
  el.setAttribute('width',col.x1-col.x0);el.setAttribute('height',row[1]-row[0]);
  el.setAttribute('fill','none');el.setAttribute('stroke','#111');el.setAttribute('stroke-width','2.5');
  
  
  axesRoot.appendChild(el);
  for(let v=Math.ceil(col.min/minorStep)*minorStep;v<=col.max+1e-6;v+=minorStep){
    const isMajor=majorTicks.indexOf(v)>=0;
    const x=xScale(col,v);
    addAxisLine(x,row[1],x,row[1]+(isMajor?11:6),2,isMajor?'x-major-tick':'x-minor-tick');
  }
  for(let z=0;z<=5;z+=.25){
    const isMajor=(z*2)%1===0;
    const y=yScale(row,z);
    addAxisLine(col.x0,y,col.x0-(isMajor?11:6),y,2,isMajor?'y-major-tick':'y-minor-tick');
  }
  if(yLabels){
    depthTicks.forEach((t,i)=>{
      const tx = document.createElementNS(NS,'text');
      tx.setAttribute('x',125);
      tx.setAttribute('y',yScale(row,t)+12.5);
      tx.setAttribute('text-anchor','end');
      tx.setAttribute('font-size','34.5');
      
      
      tx.textContent=depthTickLabels[i];
      axesRoot.appendChild(tx);
    });
  }
}
function addXLabels(col,row,ticks,labels){
  const topY=row[1]+17;
  ticks.forEach((t,i)=>{
    const tx = document.createElementNS(NS,'text');
    tx.setAttribute('font-size','36.5');
    tx.setAttribute('text-anchor','middle');
    tx.setAttribute('dominant-baseline','central');
    
    
    tx.textContent=labels[i];
    axesRoot.appendChild(tx);
    const len=tx.getComputedTextLength();
    const angle=84;
    const rad=angle*Math.PI/180;
    const cy=topY+(len*Math.sin(rad)+26*Math.cos(rad))/2;
    const cx=xScale(col,t)-2.5;
    tx.setAttribute('transform','translate('+cx.toFixed(1)+','+cy.toFixed(1)+') rotate(-'+angle+')');
  });
}
function addColorbar(topY,botY,arrowTop,arrowBot,ticks,colors,topColor,botColor){
  const x0=1697.5,x1=1726.5,xm=(x0+x1)/2;
  const yOf=i=>topY+i*(botY-topY)/(ticks.length-1);
  function shape(points,fill,name){
    const el = document.createElementNS(NS,'polygon');
    el.setAttribute('points',points);
    el.setAttribute('fill',fill);
    
    
    barsRoot.appendChild(el);
  }
  shape(x0+','+topY+' '+xm+','+arrowTop+' '+x1+','+topY,topColor,'colorbar-upper-extension');
  if(arrowBot!==null){shape(x0+','+botY+' '+xm+','+arrowBot+' '+x1+','+botY,botColor,'colorbar-lower-extension');}
  for(let i=0;i<ticks.length-1;i++){
    const a=yOf(i),b=yOf(i+1);
    shape(x0+','+a+' '+x1+','+a+' '+x1+','+(b+.4)+' '+x0+','+(b+.4),colors[i],'colorbar-band');
  }
  const pts=arrowBot!==null
    ? [x0,topY,xm,arrowTop,x1,topY,x1,botY,xm,arrowBot,x0,botY]
    : [x0,topY,xm,arrowTop,x1,topY,x1,botY,x0,botY];
  const outline = document.createElementNS(NS,'polygon');
  let s='';for(let i=0;i<pts.length;i+=2){s+=pts[i]+','+pts[i+1]+' ';}
  outline.setAttribute('points',s);
  outline.setAttribute('fill','none');
  outline.setAttribute('stroke','#000');
  outline.setAttribute('stroke-width','2');
  
  
  barsRoot.appendChild(outline);
  ticks.forEach((t,i)=>{
    const y=yOf(i);
    const ln = document.createElementNS(NS,'line');
    ln.setAttribute('x1',x1);ln.setAttribute('x2',x1+9);ln.setAttribute('y1',y);ln.setAttribute('y2',y);
    ln.setAttribute('stroke','#000');ln.setAttribute('stroke-width','2');
    
    
    barsRoot.appendChild(ln);
    const tx = document.createElementNS(NS,'text');
    tx.setAttribute('x',1748);
    tx.setAttribute('y',y+12);
    tx.setAttribute('font-size','33');
    
    
    const fmt = (ticks===fluxTicks) ? t.toFixed(1) : String(Math.abs(t));
    tx.textContent=(t<0?'\u2212':'')+fmt;
    barsRoot.appendChild(tx);
  });
}

/* ---------- panel a ---------- */
const pa = makePanel(LEFT,PANEL_ROWS[0],'temperature-season-panel');
addBackground(pa,tempColors[0]);
const aIso0 = [8.4,0];
frontDays.forEach((d,i)=>aIso0.push(d,frontDepths[i]));
aIso0.push(40.2,frontDepths[frontDepths.length-1]);
const aIsotherms = [aIso0,aIsoM2,aIsoM4,aIsoM6,aIsoM8,aIsoM10,aIsoM12,aIsoM14,aIsoM16];
aIsotherms.forEach((ln,i)=>addBelow(pa,ln,tempColors[i+1]));
addPoly(pa,aTail,tempColors[MAG]);
addPoly(pa,aFingerNarrow,tempColors[CORAL]);
addPoly(pa,aFingerSmall,tempColors[ORNG]);
addPoly(pa,aTongueRose,tempColors[ROSE]);
addPoly(pa,aTongueCoral,tempColors[CORAL]);
addPoly(pa,aTongueOrange,tempColors[ORNG]);
addPoly(pa,aTongueGold,tempColors[GOLD]);
addPoly(pa,aTopBump,tempColors[GOLD]);
addPoly(pa,aMidBump,tempColors[GOLD]);
addPoly(pa,aMidDot,tempColors[GOLD]);
aLobeDays.forEach((d,i)=>addOval(pa,d,0,aLobeHalfDays[i],aLobeDepths[i],tempColors[GOLD]));
aInnerLobeDays.forEach((d,i)=>addOval(pa,d,0,.12,aInnerLobeDepths[i],tempColors[ORNG]));
addVLine(pa,31.24,1.0,5,'#8a1aa0',2);
addGrid(pa,dayTicks);
addFront(pa,frontDays,frontDepths,5);
addFront(pa,perchedDays,perchedDepths,5);
addFrame(pa,1,dayTicks,true);

/* ---------- panel b ---------- */
const pb = makePanel(RIGHT,PANEL_ROWS[0],'temperature-event-panel');
addBackground(pb,tempColors[0]);
[bIso0,bIsoM2,bIsoM4,bIsoM6,bIsoM8,bIsoM10,bIsoM12,bIsoM14,bIsoM16].forEach((ln,i)=>addBelow(pb,ln,tempColors[i+1]));
addPoly(pb,bLeftBlobA,tempColors[CORAL]);
addPoly(pb,bLeftBlobB,tempColors[CORAL]);
addPoly(pb,bLeftBlobC,tempColors[CORAL]);
addPoly(pb,bLeftBlobCore,tempColors[ORNG]);
addPoly(pb,bWarmOrange,tempColors[ORNG]);
addPoly(pb,bWarmGoldUpper,tempColors[GOLD]);
addPoly(pb,bWarmGoldLower,tempColors[GOLD]);
addGrid(pb,hourTicks);
addFront(pb,zoomFrontHours,zoomFrontDepths,5);
addFrame(pb,3,hourTicks,false);

/* ---------- panel c ---------- */
const gc = i=>gradColors[i];
const pc = makePanel(LEFT,PANEL_ROWS[1],'gradient-season-panel');
addBackground(pc,'#ffffff');
addPoly(pc,cGrayUpper,gc(G_GRAY));
addPoly(pc,cGrayLower,gc(G_GRAY));
addPoly(pc,cGrayHole,'#ffffff');
addPoly(pc,cBlueMain,gc(G_B1));
addPoly(pc,cMidCore,gc(G_B2));
addPoly(pc,cMidLeft,gc(G_B2));
addPoly(pc,cMidSpike,gc(G_B2));
addPoly(pc,cDarkLeft,gc(G_B3));
addPoly(pc,cDarkSpike,gc(G_B3));
addPoly(pc,cRedPink,gc(G_P));
addPoly(pc,cRedCoral,gc(G_R1));
addPoly(pc,cRedMid,gc(G_R2));
addPoly(pc,cRedDark,gc(G_R3));
addPoly(pc,cColumnLeft,gc(G_B1));
addPoly(pc,cColumnRight,gc(G_B1));
addPoly(pc,cColumnMid,gc(G_B2));
addPoly(pc,cSpikeLower,gc(G_B1));
addPoly(pc,cSpikeLowerMid,gc(G_B2));
cSpotDays.forEach((d,i)=>addOval(pc,d,cSpotDepths[i],cSpotHalfDays[i],cSpotHalfDepths[i],gc(cSpotColorsIdx[i])));
cPinkDays.forEach((d,i)=>addOval(pc,d,cPinkDepths[i],cPinkHalfDays[i],cPinkHalfDepths[i],gc(G_P)));
addSpots(pc,cDiurnalDays,cDiurnalDays.map(()=>.25),cDiurnalDays.map(()=>.36),cDiurnalDays.map(()=>.21),cDiurnalPeak,[5,10,15,20],[gc(G_GRAY),gc(G_B1),gc(G_B2),gc(G_B3)]);
addVLine(pc,31.2,0,.45,gc(G_R2),3);
addVLine(pc,31.2,1.0,1.45,gc(G_B1),2);
addVLine(pc,31.24,3.3,3.7,gc(G_B1),2);
addGrid(pc,dayTicks);
addFront(pc,frontDays,frontDepths,5);
addFront(pc,perchedDays,perchedDepths,5);
const dashedBoxDays = [18.87,20.28];
const dashedBoxDepths = [0,5];
const dashBox = document.createElementNS(NS,'rect');
dashBox.setAttribute('x',xScale(LEFT,dashedBoxDays[0]));
dashBox.setAttribute('y',yScale(PANEL_ROWS[1],dashedBoxDepths[0])+1.5);
dashBox.setAttribute('width',xScale(LEFT,dashedBoxDays[1])-xScale(LEFT,dashedBoxDays[0]));
dashBox.setAttribute('height',yScale(PANEL_ROWS[1],dashedBoxDepths[1])-yScale(PANEL_ROWS[1],dashedBoxDepths[0])-3);
dashBox.setAttribute('fill','none');
dashBox.setAttribute('stroke','#000');
dashBox.setAttribute('stroke-width','5.5');
dashBox.setAttribute('stroke-dasharray','20 9');


pc.g.appendChild(dashBox);
addFrame(pc,1,dayTicks,true);

/* ---------- panel d ---------- */
const pd = makePanel(RIGHT,PANEL_ROWS[1],'gradient-event-panel');
addBackground(pd,'#ffffff');
[dGrayTop,dGrayLeft,dGrayRight,dGrayBottom].forEach(s=>addPoly(pd,s,gc(G_GRAY)));
[dBlueA,dBlueB,dBlueC,dBlueD,dBlueE,dBlueF].forEach(s=>addPoly(pd,s,gc(G_B1)));
[dMidA,dMidC,dMidD,dMidE,dMidCore,dMidF].forEach(s=>addPoly(pd,s,gc(G_B2)));
[dDarkA,dDarkCore,dDarkF1,dDarkF2].forEach(s=>addPoly(pd,s,gc(G_B3)));
addPoly(pd,dPinkMain,gc(G_P));
addPoly(pd,dCoralMain,gc(G_R1));
addPoly(pd,dRedMain,gc(G_R2));
addPoly(pd,dDarkRedA,gc(G_R3));
addPoly(pd,dDarkRedB,gc(G_R3));
addPoly(pd,dPinkLower,gc(G_P));
addPoly(pd,dCoralLower,gc(G_R1));
dRedSpotHours.forEach((h,i)=>{
  addOval(pd,h,dRedSpotDepths[i],dPinkHalfHours[i],dPinkHalfDepths[i],gc(G_P));
  addOval(pd,h,dRedSpotDepths[i],dCoralHalfHours[i],dCoralHalfDepths[i],gc(G_R1));
});
addOval(pd,-.7,2.74,.4,.05,gc(G_R2));
addGrid(pd,hourTicks);
addFront(pd,zoomFrontHours,zoomFrontDepths,5);
addFrame(pd,3,hourTicks,false);

/* ---------- panel e ---------- */
const fc = i=>fluxColors[i];
const pe = makePanel(LEFT,PANEL_ROWS[2],'vapor-flux-season-panel');
addBackground(pe,fc(F0));
addPoly(pe,eGoldMain,fc(F05));
[eHoleA,eHoleB,eHoleC,eHoleD,eHoleE,eHoleF].forEach(s=>addPoly(pe,s,fc(F0)));
addPoly(pe,eOrangeMain,fc(F1));
addPoly(pe,eOrangeTopLeft,fc(F1));
addPoly(pe,eCoralTopLeft,fc(F15));
addPoly(pe,eOrangeWedge,fc(F1));
addPoly(pe,eOrangeMid,fc(F1));
addPoly(pe,eCoralBand,fc(F15));
addPoly(pe,eRoseBand,fc(F2));
addPoly(pe,ePlumBand,fc(F25));
addPoly(pe,ePurpleBand,fc(F3));
addPoly(pe,eIndigoBand,fc(F35));
addPoly(pe,eBlackA,fc(F4));
addPoly(pe,eBlackB,fc(F4));
addPoly(pe,eSpike1Coral,fc(F15));
addPoly(pe,eSpike1Rose,fc(F2));
addPoly(pe,eSpike1Plum,fc(F25));
addPoly(pe,eSpike1Black,fc(F4));
addPoly(pe,eSpike2Coral,fc(F15));
addPoly(pe,eSpike2Rose,fc(F2));
addPoly(pe,eSpike2Plum,fc(F25));
addPoly(pe,eSpike2Black,fc(F4));
addPoly(pe,eSpike2Stripe,fc(F4));
addPoly(pe,eLowerOrange,fc(F1));
addPoly(pe,eLowerRose,fc(F2));
addPoly(pe,eLowerPlum,fc(F25));
addPoly(pe,eLowerBlack,fc(F4));
const fluxLevels = [.5,1,1.5,2,2.5,3,3.5,4];
const fluxLevelColors = [fc(F05),fc(F1),fc(F15),fc(F2),fc(F25),fc(F3),fc(F35),fc(F4)];
addSpots(pe,eColumnDays,eColumnDepths,eColumnHalfDays,eColumnHalfDepths,eColumnPeaks,fluxLevels.slice(2),fluxLevelColors.slice(2));
addSpots(pe,eDiurnalDays,eDiurnalDays.map(()=>.24),eDiurnalHalfDays,eDiurnalHalfDepths,eDiurnalPeaks,fluxLevels,fluxLevelColors);
addSpots(pe,eCrownDays,eCrownDays.map(()=>0),eCrownHalfDays,eCrownHalfDepths,eCrownPeaks,fluxLevels,fluxLevelColors);
addVLine(pe,31.22,2.5,4.12,fc(F0),2.5);
addVLine(pe,31.2,0,.18,fc(F4),3);
addVLine(pe,31.2,1.05,1.45,fc(F4),3);
addVLine(pe,31.22,3.3,3.65,fc(F15),2);
addGrid(pe,dayTicks);
addFront(pe,frontDays,frontDepths,5);
addFront(pe,perchedDays,perchedDepths,5);
addFrame(pe,1,dayTicks,true);
addXLabels(LEFT,PANEL_ROWS[2],dayTicks,dayTickLabels);

/* ---------- panel f ---------- */
const pf = makePanel(RIGHT,PANEL_ROWS[2],'vapor-flux-event-panel');
addBackground(pf,fc(F0));
addPoly(pf,fGoldTop,fc(F05));
fTopDotHours.forEach(h=>addOval(pf,h,.24,.5,.03,fc(F1)));
addPoly(pf,fGoldUpper,fc(F05));
addPoly(pf,fOrangeUpper,fc(F1));
addPoly(pf,fCoralUpper,fc(F15));
addPoly(pf,fRoseUpper,fc(F2));
addPoly(pf,fGoldLeft,fc(F05));
addPoly(pf,fGoldRight,fc(F05));
addPoly(pf,fOrangeLeft,fc(F1));
addPoly(pf,fCoralLeftBand,fc(F15));
addPoly(pf,fOrangeRight,fc(F1));
addPoly(pf,fCoralRight,fc(F15));
addPoly(pf,fRoseRight,fc(F2));
addPoly(pf,fPlumRight,fc(F25));
addPoly(pf,fPurpleRight,fc(F3));
addPoly(pf,fIndigoRight,fc(F35));
addPoly(pf,fBlackRight,fc(F4));
addPoly(pf,fBlobACoral,fc(F15));
addPoly(pf,fBlobARose,fc(F2));
addPoly(pf,fBlobAPlum,fc(F25));
addPoly(pf,fBlobADark,fc(F35));
addPoly(pf,fBlobBCoral,fc(F15));
addPoly(pf,fBlobBRose,fc(F2));
addPoly(pf,fBlobCCoral,fc(F15));
addPoly(pf,fBlobCRose,fc(F2));
addPoly(pf,fBlobCPlum,fc(F25));
addPoly(pf,fBlobCDark,fc(F3));
addPoly(pf,fBlobDRose,fc(F2));
addPoly(pf,fBlobECoral,fc(F15));
addPoly(pf,fBlobERose,fc(F2));
addPoly(pf,fBlobEPlum,fc(F25));
addPoly(pf,fBlobEPurple,fc(F3));
addPoly(pf,fBlobEIndigo,fc(F35));
addPoly(pf,fBlobFCoral,fc(F15));
addPoly(pf,fBlobFRose,fc(F2));
fDotHours.forEach((h,i)=>addOval(pf,h,fDotDepths[i],.4,.04,fc(F4)));
addSpots(pf,fCoreHours,fCoreDepths,fCoreHalfHours,fCoreHalfDepths,fCorePeaks,fluxLevels.slice(2),fluxLevelColors.slice(2));
addPoly(pf,fLowOrange,fc(F1));
addPoly(pf,fLowCoral,fc(F15));
addPoly(pf,fLowRose,fc(F2));
addPoly(pf,fLowPlum,fc(F25));
addPoly(pf,fLowPlumCore,fc(F25));
addPoly(pf,fLowPurple,fc(F3));
addPoly(pf,fLowIndigo,fc(F35));
addPoly(pf,fLowBlackA,fc(F4));
addPoly(pf,fLowBlackB,fc(F4));
addPoly(pf,fLowBlackC,fc(F4));
addGrid(pf,hourTicks);
addFront(pf,zoomFrontHours,zoomFrontDepths,5);
addFrame(pf,3,hourTicks,false);
addXLabels(RIGHT,PANEL_ROWS[2],hourTicks,hourTickLabels);

/* ---------- colorbars ---------- */
addColorbar(128.6,510,90,550,tempTicks,tempColors,tempColors[0],tempColors[9]);
addColorbar(767.8,1150,727.8,1190,gradTicks,gradColors,gradColors[0],gradColors[9]);
addColorbar(1409.8,1827,1366.5,null,fluxTicks,fluxColors,fluxColors[0],null);
</script>
</body>
</html>
